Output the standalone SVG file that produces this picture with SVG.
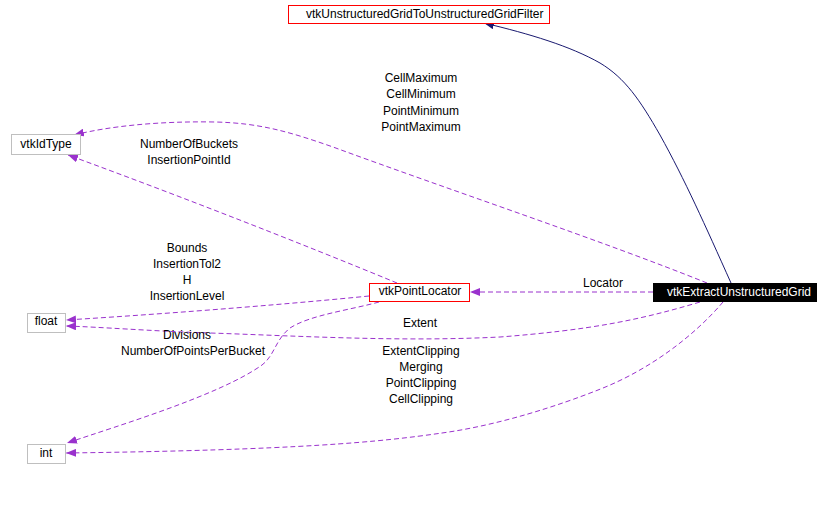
<svg xmlns="http://www.w3.org/2000/svg" width="829" height="510" viewBox="0 0 829 510">
<style>
text{font-family:"Liberation Sans",Arial,sans-serif;font-size:12px;fill:#000;text-anchor:middle}
.box{fill:#fff;stroke:#bfbfbf;stroke-width:1}
.red{fill:#fff;stroke:#ff0000;stroke-width:1}
.use{fill:none;stroke:#9a32cd;stroke-width:1;stroke-dasharray:5,3;marker-end:url(#ap)}
.inh{fill:none;stroke:#191970;stroke-width:1;marker-end:url(#an)}
</style>
<defs>
<marker id="ap" viewBox="0 0 10 8" refX="10" refY="4" markerWidth="10" markerHeight="8" markerUnits="userSpaceOnUse" orient="auto"><path d="M0,0 L10,4 L0,8 Z" fill="#9a32cd"/></marker>
<marker id="an" viewBox="0 0 10 8" refX="10" refY="4" markerWidth="10" markerHeight="8" markerUnits="userSpaceOnUse" orient="auto"><path d="M0,0 L10,4 L0,8 Z" fill="#191970"/></marker>
</defs>
<rect width="829" height="510" fill="#fff"/>
<g id="connectors">
<path class="inh" d="M731,283 C705,225 685,180 660,135 C640,100 625,78 600,63 C570,46 530,34 484,23"/>
<path class="use" d="M707,283 C600,240 450,190 333,147 C290,132 260,123 215,122 C160,121 110,126 74,135"/>
<path class="use" d="M397,283 C300,243 180,196 68,155"/>
<path class="use" d="M369,296 C300,303 180,313 66,320"/>
<path class="use" d="M379,302 C350,310 310,315 290,328 C275,340 275,355 262,365 C220,395 120,425 67,443"/>
<path class="use" d="M700,302 C640,320 590,330 500,337 C400,342 300,336 210,333 C150,331 100,327 66,326"/>
<path class="use" d="M723,302 C695,335 650,370 598,390 C560,405 500,425 442,433 C380,442 300,450 66,453"/>
<path class="use" d="M653,292 L470,292"/>
<text x="421" y="82">CellMaximum</text>
<text x="421" y="98">CellMinimum</text>
<text x="421" y="115">PointMinimum</text>
<text x="421" y="131">PointMaximum</text>
<text x="189" y="148">NumberOfBuckets</text>
<text x="189" y="164">InsertionPointId</text>
<text x="187" y="252">Bounds</text>
<text x="187" y="268">InsertionTol2</text>
<text x="187" y="284">H</text>
<text x="187" y="300">InsertionLevel</text>
<text x="187" y="339">Divisions</text>
<text x="193" y="355">NumberOfPointsPerBucket</text>
<text x="603" y="287">Locator</text>
<text x="420" y="327">Extent</text>
<text x="421" y="355">ExtentClipping</text>
<text x="421" y="371">Merging</text>
<text x="421" y="387">PointClipping</text>
<text x="421" y="403">CellClipping</text>
</g>
<g id="vtkUnstructuredGridToUnstructuredGridFilter">
<rect class="red" x="288.5" y="5.5" width="261" height="18"/>
<text x="306" y="18" style="text-anchor:start">vtkUnstructuredGridToUnstructuredGridFilter</text>
</g>
<g id="vtkIdType">
<rect class="box" x="11.5" y="134.5" width="69" height="20"/>
<text x="46" y="148">vtkIdType</text>
</g>
<g id="float">
<rect class="box" x="27.5" y="313.5" width="38" height="19"/>
<text x="46" y="325">float</text>
</g>
<g id="int">
<rect class="box" x="27.5" y="444.5" width="38" height="19"/>
<text x="46" y="457">int</text>
</g>
<g id="vtkPointLocator">
<rect class="red" x="369.5" y="283.5" width="100" height="18"/>
<text x="420" y="295">vtkPointLocator</text>
</g>
<g id="vtkExtractUnstructuredGrid">
<rect x="653" y="283" width="164" height="19" fill="#000"/>
<text x="739" y="296" style="fill:#fff">vtkExtractUnstructuredGrid</text>
</g>
</svg>
